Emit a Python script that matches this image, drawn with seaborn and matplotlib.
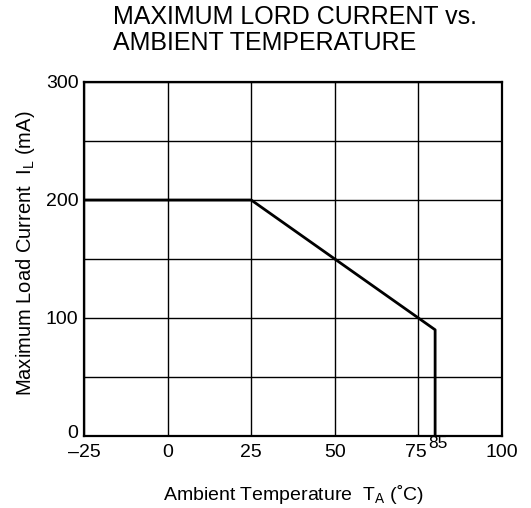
import matplotlib
matplotlib.use("Agg")
import matplotlib.pyplot as plt
import matplotlib.transforms as mtransforms
import seaborn as sns
import pandas as pd

# ---- data ----
temperature = [-25, 25, 75, 80, 80]
load_current = [200, 200, 100, 90, 0]

x_ticks = [-25, 0, 25, 50, 75, 100]
x_tick_labels = ["\u201325", "0", "25", "50", "75", "100"]
y_ticks = [0, 50, 100, 150, 200, 250, 300]
y_tick_labels = ["0", "", "100", "", "200", "", "300"]
extra_x_tick = [80]
extra_x_label = ["85"]

title_text = "MAXIMUM LORD CURRENT vs.\nAMBIENT TEMPERATURE"
x_label = "Ambient Temperature  T$_{\\mathregular{A}}$ (\u02daC)"
y_label = "Maximum Load Current  I$_{\\mathregular{L}}$ (mA)"

# ---- style ----
sns.set_theme(style="white")
plt.rcParams['font.family'] = ['Liberation Sans', 'DejaVu Sans']
plt.rcParams['mathtext.fontset'] = 'custom'
plt.rcParams['mathtext.rm'] = 'Liberation Sans'

fig = plt.figure(figsize=(5.31, 5.08), dpi=100)
ax = fig.add_axes([84 / 531, 1 - 436 / 508, (502 - 84) / 531, (436 - 82) / 508])

df = pd.DataFrame({"T": temperature, "I": load_current})
sns.lineplot(data=df, x="T", y="I", sort=False, estimator=None,
             color="black", linewidth=2.0, ax=ax, zorder=5)

ax.set_xlim(-25, 100)
ax.set_ylim(0, 300)

ax.set_xticks(x_ticks, labels=x_tick_labels)
ax.set_yticks(y_ticks, labels=y_tick_labels)
ax.set_xticks(extra_x_tick, labels=extra_x_label, minor=True)

ax.grid(True, which="major", color="black", linewidth=1.0)
ax.set_axisbelow(True)

ax.tick_params(axis="both", which="both", length=0, colors="black")
ax.tick_params(axis="x", which="major", labelsize=14, pad=6)
ax.tick_params(axis="x", which="minor", labelsize=12.5, pad=0)
ax.tick_params(axis="y", which="major", labelsize=14, pad=4)


def shift(label, dx_px, dy_px):
    label.set_transform(label.get_transform() +
                        mtransforms.ScaledTranslation(dx_px / 100, dy_px / 100,
                                                      fig.dpi_scale_trans))


# small label offsets, as in the reference
shift(ax.get_yticklabels()[0], 0, 5)
shift(ax.get_xticklabels()[4], -3, 0)
shift(ax.get_xticklabels(minor=True)[0], 3, 0)

for s in ax.spines.values():
    s.set_visible(True)
    s.set_color("black")
    s.set_linewidth(1.6)

ax.set_xlabel(x_label, fontsize=14, color="black")
ax.set_ylabel(y_label, fontsize=14.5, color="black")
ax.xaxis.set_label_coords(0.5, -0.133)
ax.yaxis.set_label_coords(-0.112, 0.515)

fig.text(113 / 531, 1 - 5 / 508, title_text, ha="left", va="top",
         fontsize=18, linespacing=1.12, color="black")

fig.savefig("out.png", dpi=100)
